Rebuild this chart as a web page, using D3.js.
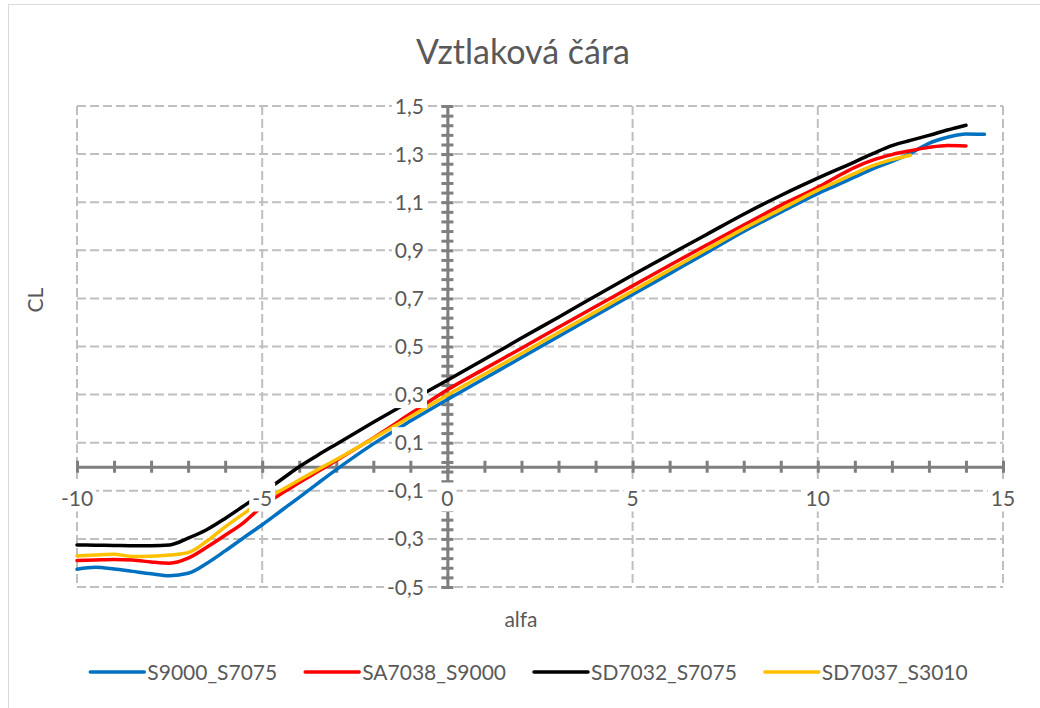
<!DOCTYPE html>
<html>
<head>
<meta charset="utf-8">
<script src="https://cdn.jsdelivr.net/npm/d3@7"></script>
<style>
  body { margin: 0; background: #fff; }
  svg { font-family: Lato, "Open Sans", sans-serif; }
</style>
</head>
<body>
<div class="chart"></div>
<script>
// rozměry grafu
const width = 1040;
const height = 708;

// data
const alfaS9000 = [-10, -9.5, -9, -8.5, -8, -7.5, -7, -6.5, -6, -5.5, -5, -4.5, -4, -3.5, -3, -2, -1, 0, 1, 2, 3, 4, 5, 6, 7, 8, 9, 10, 10.5, 11, 11.5, 12, 12.5, 13, 13.5, 14, 14.5];
const clS9000 = [-0.426, -0.418, -0.425, -0.435, -0.445, -0.453, -0.443, -0.402, -0.35, -0.295, -0.241, -0.184, -0.127, -0.069, -0.012, 0.095, 0.19, 0.28, 0.367, 0.454, 0.542, 0.629, 0.716, 0.803, 0.89, 0.978, 1.058, 1.136, 1.17, 1.205, 1.24, 1.27, 1.303, 1.345, 1.37, 1.384, 1.383];

const alfaSA7038 = [-10, -9.5, -9, -8.5, -8, -7.5, -7, -6.5, -6, -5.5, -5, -4.5, -4, -3.5, -3, -2, -1, 0, 1, 2, 3, 4, 5, 6, 7, 8, 9, 10, 10.5, 11, 11.5, 12, 12.5, 13, 13.5, 14];
const clSA7038 = [-0.39, -0.388, -0.386, -0.388, -0.396, -0.401, -0.38, -0.335, -0.285, -0.232, -0.165, -0.113, -0.066, -0.02, 0.026, 0.12, 0.22, 0.32, 0.407, 0.493, 0.58, 0.666, 0.752, 0.838, 0.922, 1.005, 1.087, 1.162, 1.205, 1.245, 1.276, 1.298, 1.314, 1.328, 1.336, 1.334];

const alfaSD7032 = [-10, -9.5, -9, -8.5, -8, -7.5, -7, -6.5, -6, -5.5, -5, -4.5, -4, -3.5, -3, -2, -1, 0, 1, 2, 3, 4, 5, 6, 7, 8, 9, 10, 11, 11.5, 12, 12.5, 13, 13.5, 14];
const clSD7032 = [-0.325, -0.326, -0.327, -0.328, -0.328, -0.325, -0.297, -0.262, -0.215, -0.163, -0.11, -0.055, 0.0, 0.048, 0.094, 0.185, 0.273, 0.36, 0.447, 0.535, 0.622, 0.71, 0.797, 0.882, 0.966, 1.05, 1.128, 1.2, 1.268, 1.303, 1.335, 1.357, 1.378, 1.4, 1.42];

const alfaSD7037 = [-10, -9.5, -9, -8.5, -8, -7.5, -7, -6.5, -6, -5.5, -5, -4.5, -4, -3.5, -3, -2, -1, 0, 1, 2, 3, 4, 5, 6, 7, 8, 9, 10, 10.5, 11, 11.5, 12, 12.5];
const clSD7037 = [-0.371, -0.367, -0.364, -0.373, -0.372, -0.367, -0.357, -0.31, -0.25, -0.195, -0.142, -0.099, -0.055, -0.012, 0.03, 0.118, 0.208, 0.298, 0.385, 0.471, 0.558, 0.644, 0.731, 0.818, 0.904, 0.99, 1.07, 1.15, 1.185, 1.22, 1.253, 1.277, 1.295];

const seriesNames = ["S9000_S7075", "SA7038_S9000", "SD7032_S7075", "SD7037_S3010"];
const seriesColors = ["#0070c0", "#ff0000", "#000000", "#ffc000"];

const xTickLabels = [-10, -5, 0, 5, 10, 15];
const yTickLabels = [-0.5, -0.3, -0.1, 0.1, 0.3, 0.5, 0.7, 0.9, 1.1, 1.3, 1.5];

const series = [
  {name: seriesNames[0], color: seriesColors[0], values: alfaS9000.map((a, i) => ({a, cl: clS9000[i]}))},
  {name: seriesNames[1], color: seriesColors[1], values: alfaSA7038.map((a, i) => ({a, cl: clSA7038[i]}))},
  {name: seriesNames[2], color: seriesColors[2], values: alfaSD7032.map((a, i) => ({a, cl: clSD7032[i]}))},
  {name: seriesNames[3], color: seriesColors[3], values: alfaSD7037.map((a, i) => ({a, cl: clSD7037[i]}))},
];

const textColor = "#595959";
const gridColor = "#bfbfbf";
const axisColor = "#7f7f7f";
const labelSize = "21px";

const svg = d3.select(".chart")
  .append("svg")
  .attr("width", width)
  .attr("height", height);

svg.append("rect")
  .attr("x", 8.5).attr("y", 4.5)
  .attr("width", 1200).attr("height", 900)
  .attr("fill", "#fff")
  .attr("stroke", "#d9d9d9");

const x = d3.scaleLinear().domain([-10, 15]).range([77, 1003]);
const y = d3.scaleLinear().domain([-0.5, 1.5]).range([587, 106]);

// mřížka
const grid = svg.append("g")
  .attr("stroke", gridColor)
  .attr("stroke-width", 2)
  .attr("stroke-dasharray", "9,4");

grid.selectAll(".gx")
  .data(xTickLabels)
  .join("line")
    .attr("x1", d => x(d)).attr("x2", d => x(d))
    .attr("y1", y(1.5)).attr("y2", y(-0.5));

grid.selectAll(".gy")
  .data(yTickLabels)
  .join("line")
    .attr("class", "gy")
    .attr("x1", x(-10)).attr("x2", x(15))
    .attr("y1", d => y(d)).attr("y2", d => y(d));

// osy se křížovými značkami
const xAxis = svg.append("g")
  .attr("transform", `translate(0, ${y(0)})`)
  .call(d3.axisBottom(x).tickValues(d3.range(-10, 16, 1)).tickSize(6).tickSizeOuter(0).tickFormat(""));
xAxis.selectAll(".tick line").attr("y1", -6).attr("y2", 6);

const yAxis = svg.append("g")
  .attr("transform", `translate(${x(0)}, 0)`)
  .call(d3.axisLeft(y).tickValues(d3.range(0, 51).map(i => -0.5 + i * 0.04)).tickSize(6).tickSizeOuter(0).tickFormat(""));
yAxis.selectAll(".tick line").attr("x1", -6).attr("x2", 6);

svg.selectAll(".domain, .tick line")
  .attr("stroke", axisColor)
  .attr("stroke-width", 3);

// křivky
const line = d3.line()
  .x(d => x(d.a))
  .y(d => y(d.cl))
  .curve(d3.curveMonotoneX);

svg.append("g")
  .selectAll("path")
  .data(series)
  .join("path")
    .attr("d", d => line(d.values))
    .attr("fill", "none")
    .attr("stroke", d => d.color)
    .attr("stroke-width", 3.5)
    .attr("stroke-linecap", "round")
    .attr("stroke-linejoin", "round");

// popisky os s bílým pozadím
const fmt = v => v.toFixed(1).replace(".", ",");

function labelWithBox(g, tx, ty, txt, anchor) {
  const box = g.append("rect").attr("fill", "#fff");
  const t = g.append("text")
    .attr("x", tx).attr("y", ty)
    .attr("text-anchor", anchor)
    .attr("fill", textColor)
    .style("font-size", labelSize)
    .text(txt);
  const b = t.node().getBBox();
  box.attr("x", b.x - 3).attr("y", b.y - 2)
    .attr("width", b.width + 6).attr("height", b.height + 4);
}

const labels = svg.append("g");
xTickLabels.forEach(v => labelWithBox(labels.append("g"), x(v), 505.5, v, "middle"));
yTickLabels.forEach(v => labelWithBox(labels.append("g"), 424, y(v) + 7.5, fmt(v), "end"));

// titulky
svg.append("text")
  .attr("x", 523).attr("y", 64)
  .attr("text-anchor", "middle")
  .attr("fill", textColor)
  .style("font-size", "34px")
  .text("Vztlaková čára");

svg.append("text")
  .attr("transform", "translate(43, 300) rotate(-90)")
  .attr("text-anchor", "middle")
  .attr("fill", textColor)
  .style("font-size", labelSize)
  .text("CL");

svg.append("text")
  .attr("x", 521).attr("y", 627)
  .attr("text-anchor", "middle")
  .attr("fill", textColor)
  .style("font-size", labelSize)
  .text("alfa");

// legenda
const legend = svg.append("g");
const items = legend.selectAll("g")
  .data(series)
  .join("g");
items.append("line")
  .attr("x1", 0).attr("x2", 54)
  .attr("y1", 672).attr("y2", 672)
  .attr("stroke", d => d.color)
  .attr("stroke-width", 3.5)
  .attr("stroke-linecap", "round");
items.append("text")
  .attr("x", 57).attr("y", 679.5)
  .attr("fill", textColor)
  .style("font-size", labelSize)
  .text(d => d.name);

let widths = [];
items.each(function () { widths.push(this.getBBox().width); });
const gap = 28;
const total = d3.sum(widths) + gap * (widths.length - 1);
let pos = 529 - total / 2;
items.attr("transform", (d, i) => {
  const t = `translate(${pos}, 0)`;
  pos += widths[i] + gap;
  return t;
});
</script>
</body>
</html>
